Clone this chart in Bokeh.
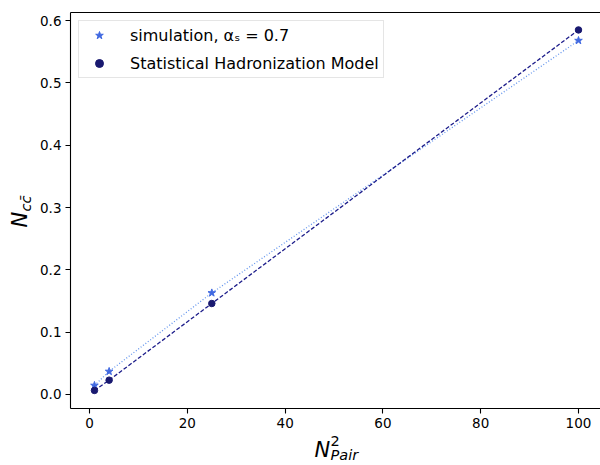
import math
from bokeh.plotting import figure
from bokeh.models import (Range1d, FixedTicker, Legend, LegendItem, NumeralTickFormatter,
                          LinearAxis)
from bokeh.core.properties import value
from bokeh.embed import file_html
from bokeh.resources import INLINE

# data
n_pair_sq = [1, 4, 25, 100]
sim_vals = [0.0145, 0.037, 0.163, 0.568]
shm_vals = [0.0065, 0.023, 0.146, 0.585]
x_ticks = [0, 20, 40, 60, 80, 100]
y_ticks = [0.0, 0.1, 0.2, 0.3, 0.4, 0.5, 0.6]
sim_label = "simulation, αₛ = 0.7"
shm_label = "Statistical Hadronization Model"

FONT = "DejaVu Sans"
X0, X1 = -3.9, 104.5
Y0, Y1 = -0.0225, 0.613

p = figure(width=600, height=465, output_backend="svg", toolbar_location=None,
           x_range=Range1d(X0, X1), y_range=Range1d(Y0, Y1),
           min_border_left=70, min_border_right=0, min_border_top=12, min_border_bottom=57,
           background_fill_color="white", border_fill_color="white")

p.grid.visible = False
p.outline_line_color = None

xax = p.below[0]
yax = p.left[0]
for ax in (xax, yax):
    ax.axis_line_color = "black"
    ax.axis_line_width = 1.1
    ax.major_tick_line_color = "black"
    ax.major_tick_line_width = 1.1
    ax.major_tick_out = 5
    ax.major_tick_in = 0
    ax.minor_tick_line_color = None
    ax.major_label_text_font = FONT
    ax.major_label_text_font_size = "13.5px"
    ax.major_label_text_color = "black"
    ax.major_label_standoff = 4

xax.ticker = FixedTicker(ticks=x_ticks)
yax.ticker = FixedTicker(ticks=y_ticks)
yax.formatter = NumeralTickFormatter(format="0.0")

# top spine (no right spine: the frame runs off the canvas edge as in the reference)
top_axis = LinearAxis(ticker=FixedTicker(ticks=[]), major_tick_out=0, major_tick_in=0,
                      major_label_standoff=0, major_label_text_font_size="0px",
                      axis_line_color="black", axis_line_width=1.1,
                      minor_tick_line_color=None)
p.add_layout(top_axis, "above")

# lines and markers
p.line(n_pair_sq, sim_vals, line_color="#6495ED", line_width=1.3, line_dash="1 2")
p.line(n_pair_sq, shm_vals, line_color="#1c1c8a", line_width=1.3, line_dash="4 2")
r_sim = p.scatter(n_pair_sq, sim_vals, marker="star", size=8, fill_color="#4169E1",
                  line_color="#4169E1")
r_shm = p.scatter(n_pair_sq, shm_vals, marker="circle", size=6.5, fill_color="#191970",
                  line_color="#191970")

legend = Legend(items=[LegendItem(label=sim_label, renderers=[r_sim]),
                       LegendItem(label=shm_label, renderers=[r_shm])],
                location="top_left", margin=8, padding=4, spacing=8,
                glyph_width=32, glyph_height=20, label_height=20, label_standoff=15,
                label_text_font=FONT, label_text_font_size="16px", label_text_color="black",
                border_line_color="#cccccc", border_line_width=1,
                background_fill_color="white", background_fill_alpha=0.8)
p.add_layout(legend, "center")

# axis labels drawn as text glyphs outside the frame (pixel -> data helpers)
FRAME_L, FRAME_T, FRAME_W, FRAME_H = 70, 12, 530, 396


def dx(px):
    return X0 + (px - FRAME_L) * (X1 - X0) / FRAME_W


def dy(py):
    return Y1 - (py - FRAME_T) * (Y1 - Y0) / FRAME_H


def lab(px, py, text, size, italic=True, angle=0.0):
    p.text(x=[dx(px)], y=[dy(py)], text=[text], angle=angle,
           text_font=value(FONT), text_font_style="italic" if italic else "normal",
           text_font_size=size, text_baseline="top", text_align="left",
           text_color="black", level="overlay")


# x axis label: N^2_Pair
lab(314, 437, "N", "21px")
lab(330, 435, "2", "14.5px", italic=False)
lab(330, 446, "Pair", "14.5px")

# y axis label: N_{c c-bar}
lab(7, 227, "N", "21px", angle=math.pi / 2)
lab(17, 211, "cc\u0304", "14.5px", angle=math.pi / 2)

open("out.html", "w").write(file_html(p, INLINE))
